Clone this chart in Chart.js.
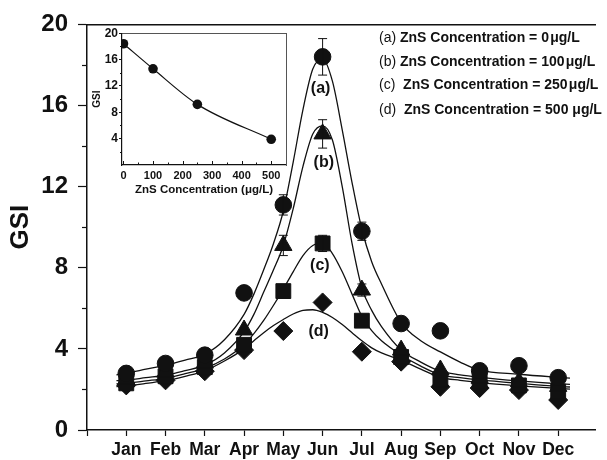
<!DOCTYPE html>
<html>
<head>
<meta charset="utf-8">
<script src="https://cdn.jsdelivr.net/npm/chart.js@4.4.0/dist/chart.umd.min.js"></script>
<style>
  html, body { margin: 0; padding: 0; background: #fff; }
  #wrap { position: relative; width: 607px; height: 460px; overflow: hidden; }
  #main { position: absolute; left: 0; top: 0; }
  #inset { position: absolute; left: 80px; top: 25px; }
  #legend { position: absolute; left: 379px; top: 0; font-family: "Liberation Sans", Arial, Helvetica, sans-serif;
            font-size: 14px; color: #111; }
  #legend div { position: absolute; left: 0; white-space: nowrap; line-height: 16px; }
  #legend b { font-weight: bold; }
</style>
</head>
<body>
<div id="wrap">
  <canvas id="main" width="607" height="460"></canvas>
  <canvas id="inset" width="215" height="180"></canvas>
  <div id="legend">
    <div style="top:29px">(a) <b>ZnS Concentration = 0&#8202;μg/L</b></div>
    <div style="top:53px">(b) <b>ZnS Concentration = 100&#8202;μg/L</b></div>
    <div style="top:76px">(c)&nbsp; <b>ZnS Concentration = 250&#8202;μg/L</b></div>
    <div style="top:101px">(d)&nbsp; <b>ZnS Concentration = 500 μg/L</b></div>
  </div>
</div>
<script>
// ---- monthly GSI, one list per ZnS concentration ----
const months = ['Jan', 'Feb', 'Mar', 'Apr', 'May', 'Jun', 'Jul', 'Aug', 'Sep', 'Oct', 'Nov', 'Dec'];
const monthIndex = [1, 2, 3, 4, 5, 6, 7, 8, 9, 10, 11, 12];

const gsi0   = [2.79, 3.28, 3.69, 6.76, 11.1, 18.4, 9.8, 5.25, 4.89, 2.92, 3.17, 2.58];
const gsi100 = [2.5, 2.85, 3.3, 4.93, 9.1, 14.6, 6.9, 3.94, 2.96, 2.55, 2.38, 2.15];
const gsi250 = [2.3, 2.65, 3.1, 4.2, 6.85, 9.2, 5.39, 3.6, 2.5, 2.4, 2.2, 1.9];
const gsi500 = [2.2, 2.45, 2.9, 3.94, 4.88, 6.29, 3.86, 3.37, 2.13, 2.07, 1.97, 1.48];

// error bar half-lengths (0 = no bar)
const err0   = [0, 0, 0, 0, 0.5, 0.9, 0.45, 0, 0, 0, 0, 0];
const err100 = [0, 0, 0, 0, 0.5, 0.7, 0.3, 0, 0, 0, 0, 0];
const err250 = [0, 0, 0, 0, 0, 0.4, 0, 0, 0, 0, 0, 0];
const err500 = [0, 0, 0, 0, 0, 0, 0, 0, 0, 0, 0, 0];

// fitted seasonal curves, sampled along the month axis
const fitMonths = [0.75, 1, 1.5, 2, 2.5, 3, 3.5, 4, 4.25, 4.5, 4.75, 5, 5.25, 5.5, 5.75, 6, 6.25, 6.5, 6.75, 7, 7.25, 7.5, 8, 8.5, 9, 9.5, 10, 11, 12, 12.3];
const fit0   = [2.72, 2.8, 3.0, 3.2, 3.45, 3.73, 4.45, 5.7, 6.7, 7.9, 9.2, 10.8, 13.2, 15.8, 17.8, 18.3, 17.2, 14.8, 12.2, 9.9, 8.3, 7.2, 5.3, 4.4, 3.85, 3.35, 2.95, 2.75, 2.6, 2.56];
const fit100 = [2.43, 2.46, 2.58, 2.7, 2.93, 3.2, 3.8, 4.85, 5.7, 6.8, 7.9, 9.1, 10.9, 13.0, 14.6, 15.0, 14.3, 12.0, 9.2, 7.0, 5.9, 5.1, 3.95, 3.35, 2.9, 2.72, 2.6, 2.42, 2.28, 2.25];
const fit250 = [2.27, 2.3, 2.42, 2.55, 2.78, 3.04, 3.5, 4.2, 4.75, 5.4, 6.15, 6.95, 7.8, 8.6, 9.1, 9.2, 8.7, 7.8, 6.7, 5.6, 4.9, 4.4, 3.7, 3.15, 2.72, 2.58, 2.47, 2.3, 2.15, 2.12];
const fit500 = [2.14, 2.17, 2.3, 2.43, 2.65, 2.92, 3.4, 4.0, 4.4, 4.8, 5.15, 5.45, 5.72, 5.9, 5.93, 5.8, 5.55, 5.2, 4.8, 4.4, 4.05, 3.8, 3.45, 3.0, 2.6, 2.45, 2.34, 2.18, 2.05, 2.02];

const yMajor = [0, 4, 8, 12, 16, 20];
const yMinor = [2, 6, 10, 14, 18];

// inset: peak GSI against ZnS concentration
const concentrations = [0, 100, 250, 500];
const concGSI = [18.4, 14.6, 9.2, 3.9];
const insetXMajor = [0, 100, 200, 300, 400, 500];
const insetXMinor = [50, 150, 250, 350, 450];
const insetYMajor = [4, 8, 12, 16, 20];
const insetYMinor = [2, 6, 10, 14, 18];

const INK = '#111';
const FONT = '"Liberation Sans", Arial, Helvetica, sans-serif';
Chart.defaults.font.family = FONT;
Chart.defaults.color = INK;

const pairs = (xs, ys) => xs.map((x, i) => ({ x, y: ys[i] }));

function fitLine(values) {
  return {
    data: pairs(fitMonths, values),
    borderColor: INK, borderWidth: 1.3, pointRadius: 0,
    cubicInterpolationMode: 'monotone', fill: false, order: 2
  };
}
function markers(values, errors, style, radius) {
  return {
    data: pairs(monthIndex, values), errors,
    showLine: false, pointStyle: style, pointRadius: radius,
    backgroundColor: INK, borderColor: INK, pointBorderWidth: 1, order: 1
  };
}

// labels placed next to each fitted curve, in data coordinates
const curveTags = [
  { text: '(a)', month: 5.95, gsi: 16.85 },
  { text: '(b)', month: 6.03, gsi: 13.2 },
  { text: '(c)', month: 5.93, gsi: 8.13 },
  { text: '(d)', month: 5.9, gsi: 4.83 }
];

const mainExtras = {
  id: 'mainExtras',
  afterDatasetsDraw(chart) {
    const { ctx, scales: { x, y } } = chart;
    ctx.save();
    ctx.strokeStyle = INK;
    ctx.lineWidth = 1.2;
    // minor ticks on the GSI axis
    yMinor.forEach(v => {
      const py = Math.round(y.getPixelForValue(v)) + 0.5;
      ctx.beginPath(); ctx.moveTo(x.left - 5, py); ctx.lineTo(x.left, py); ctx.stroke();
    });
    // error bars
    ctx.lineWidth = 1;
    chart.data.datasets.forEach(ds => {
      if (!ds.errors) return;
      ds.data.forEach((p, i) => {
        const e = ds.errors[i];
        if (!e) return;
        const px = x.getPixelForValue(p.x);
        const top = y.getPixelForValue(p.y + e), bot = y.getPixelForValue(p.y - e);
        ctx.beginPath();
        ctx.moveTo(px, top); ctx.lineTo(px, bot);
        ctx.moveTo(px - 4.5, top); ctx.lineTo(px + 4.5, top);
        ctx.moveTo(px - 4.5, bot); ctx.lineTo(px + 4.5, bot);
        ctx.stroke();
      });
    });
    // curve tags
    ctx.fillStyle = INK;
    ctx.font = 'bold 16px ' + FONT;
    ctx.textAlign = 'center';
    ctx.textBaseline = 'middle';
    curveTags.forEach(t => ctx.fillText(t.text, x.getPixelForValue(t.month), y.getPixelForValue(t.gsi)));
    ctx.restore();
  }
};

new Chart(document.getElementById('main'), {
  type: 'line',
  data: {
    datasets: [
      markers(gsi0, err0, 'circle', 8.3),
      markers(gsi100, err100, 'triangle', 10),
      markers(gsi250, err250, 'rect', 10.5),
      markers(gsi500, err500, 'rectRot', 9.5),
      fitLine(fit0), fitLine(fit100), fitLine(fit250), fitLine(fit500)
    ]
  },
  options: {
    responsive: false,
    animation: false,
    layout: { padding: { top: 24, right: 0, left: 0, bottom: 0 } },
    plugins: { legend: { display: false }, tooltip: { enabled: false } },
    scales: {
      x: {
        type: 'linear', position: 'bottom', min: 0, max: 12.95,
        afterBuildTicks: s => { s.ticks = [0].concat(monthIndex).map(v => ({ value: v })); },
        afterFit: s => { s.height = 30; },
        ticks: {
          autoSkip: false, maxRotation: 0, padding: 4,
          font: { size: 17.5, weight: 'bold' }, color: INK,
          callback: v => (v >= 1 && v <= 12 ? months[v - 1] : '')
        },
        grid: { drawOnChartArea: false, tickLength: 6, tickColor: INK, tickWidth: 1.2 },
        border: { color: INK, width: 1.5 }
      },
      xTop: {
        type: 'linear', position: 'top', min: 0, max: 12.95,
        ticks: { display: false }, grid: { display: false },
        afterFit: s => { s.height = 0; },
        border: { color: INK, width: 1.5 }
      },
      y: {
        min: 0, max: 20,
        afterBuildTicks: s => { s.ticks = yMajor.map(v => ({ value: v })); },
        afterFit: s => { s.width = 87; },
        ticks: { padding: 10, font: { size: 24, weight: 'bold' }, color: INK },
        grid: { drawOnChartArea: false, tickLength: 9, tickColor: INK, tickWidth: 1.2 },
        border: { color: INK, width: 1.5 },
        title: { display: true, text: 'GSI', font: { size: 26, weight: 'bold' }, color: INK, padding: { top: 5, bottom: 0 } }
      }
    }
  },
  plugins: [mainExtras]
});

// ---- inset ----
const insetExtras = {
  id: 'insetExtras',
  afterDatasetsDraw(chart) {
    const { ctx, scales: { x, y } } = chart;
    ctx.save();
    ctx.strokeStyle = INK;
    ctx.lineWidth = 1;
    insetYMinor.forEach(v => {
      const py = Math.round(y.getPixelForValue(v)) + 0.5;
      ctx.beginPath(); ctx.moveTo(x.left - 2, py); ctx.lineTo(x.left, py); ctx.stroke();
    });
    insetXMajor.forEach(v => {
      const px = Math.round(x.getPixelForValue(v)) + 0.5;
      ctx.beginPath(); ctx.moveTo(px, y.bottom); ctx.lineTo(px, y.bottom - 4); ctx.stroke();
    });
    insetXMinor.forEach(v => {
      const px = Math.round(x.getPixelForValue(v)) + 0.5;
      ctx.beginPath(); ctx.moveTo(px, y.bottom); ctx.lineTo(px, y.bottom - 2.5); ctx.stroke();
    });
    ctx.restore();
  }
};

new Chart(document.getElementById('inset'), {
  type: 'line',
  data: {
    datasets: [{
      data: pairs(concentrations, concGSI),
      borderColor: INK, borderWidth: 1.2, backgroundColor: INK,
      pointStyle: 'circle', pointRadius: 4.8, pointBorderWidth: 0,
      cubicInterpolationMode: 'monotone', fill: false
    }]
  },
  options: {
    responsive: false,
    animation: false,
    layout: { padding: { top: 7, right: 9, left: 0, bottom: 0 } },
    plugins: { legend: { display: false }, tooltip: { enabled: false } },
    scales: {
      x: {
        type: 'linear', position: 'bottom', min: -5, max: 550,
        afterBuildTicks: s => { s.ticks = insetXMajor.map(v => ({ value: v })); },
        afterFit: s => { s.height = 40; },
        ticks: { autoSkip: false, maxRotation: 0, padding: 4, font: { size: 11, weight: 'bold' }, color: INK },
        grid: { display: true, drawOnChartArea: false, drawTicks: false },
        border: { color: INK, width: 1.2 },
        title: { display: true, text: 'ZnS Concentration (μg/L)', font: { size: 11.5, weight: 'bold' }, color: INK, padding: { top: 0, bottom: 8 } }
      },
      x2: {
        type: 'linear', position: 'top', min: -5, max: 550,
        ticks: { display: false }, grid: { display: false },
        afterFit: s => { s.height = 0; },
        border: { color: '#555', width: 1 }
      },
      y: {
        min: 0, max: 20,
        afterBuildTicks: s => { s.ticks = insetYMajor.map(v => ({ value: v })); },
        afterFit: s => { s.width = 42; },
        ticks: { padding: 1, font: { size: 12, weight: 'bold' }, color: INK },
        grid: { drawOnChartArea: false, tickLength: 3, tickColor: INK, tickWidth: 1 },
        border: { color: INK, width: 1.2 },
        title: { display: true, text: 'GSI', font: { size: 10, weight: 'bold' }, color: INK, padding: { top: 11, bottom: 0 } }
      },
      y2: {
        position: 'right', min: 0, max: 20,
        ticks: { display: false }, grid: { display: false },
        afterFit: s => { s.width = 0; },
        border: { color: '#555', width: 1 }
      }
    }
  },
  plugins: [insetExtras]
});
</script>
</body>
</html>
